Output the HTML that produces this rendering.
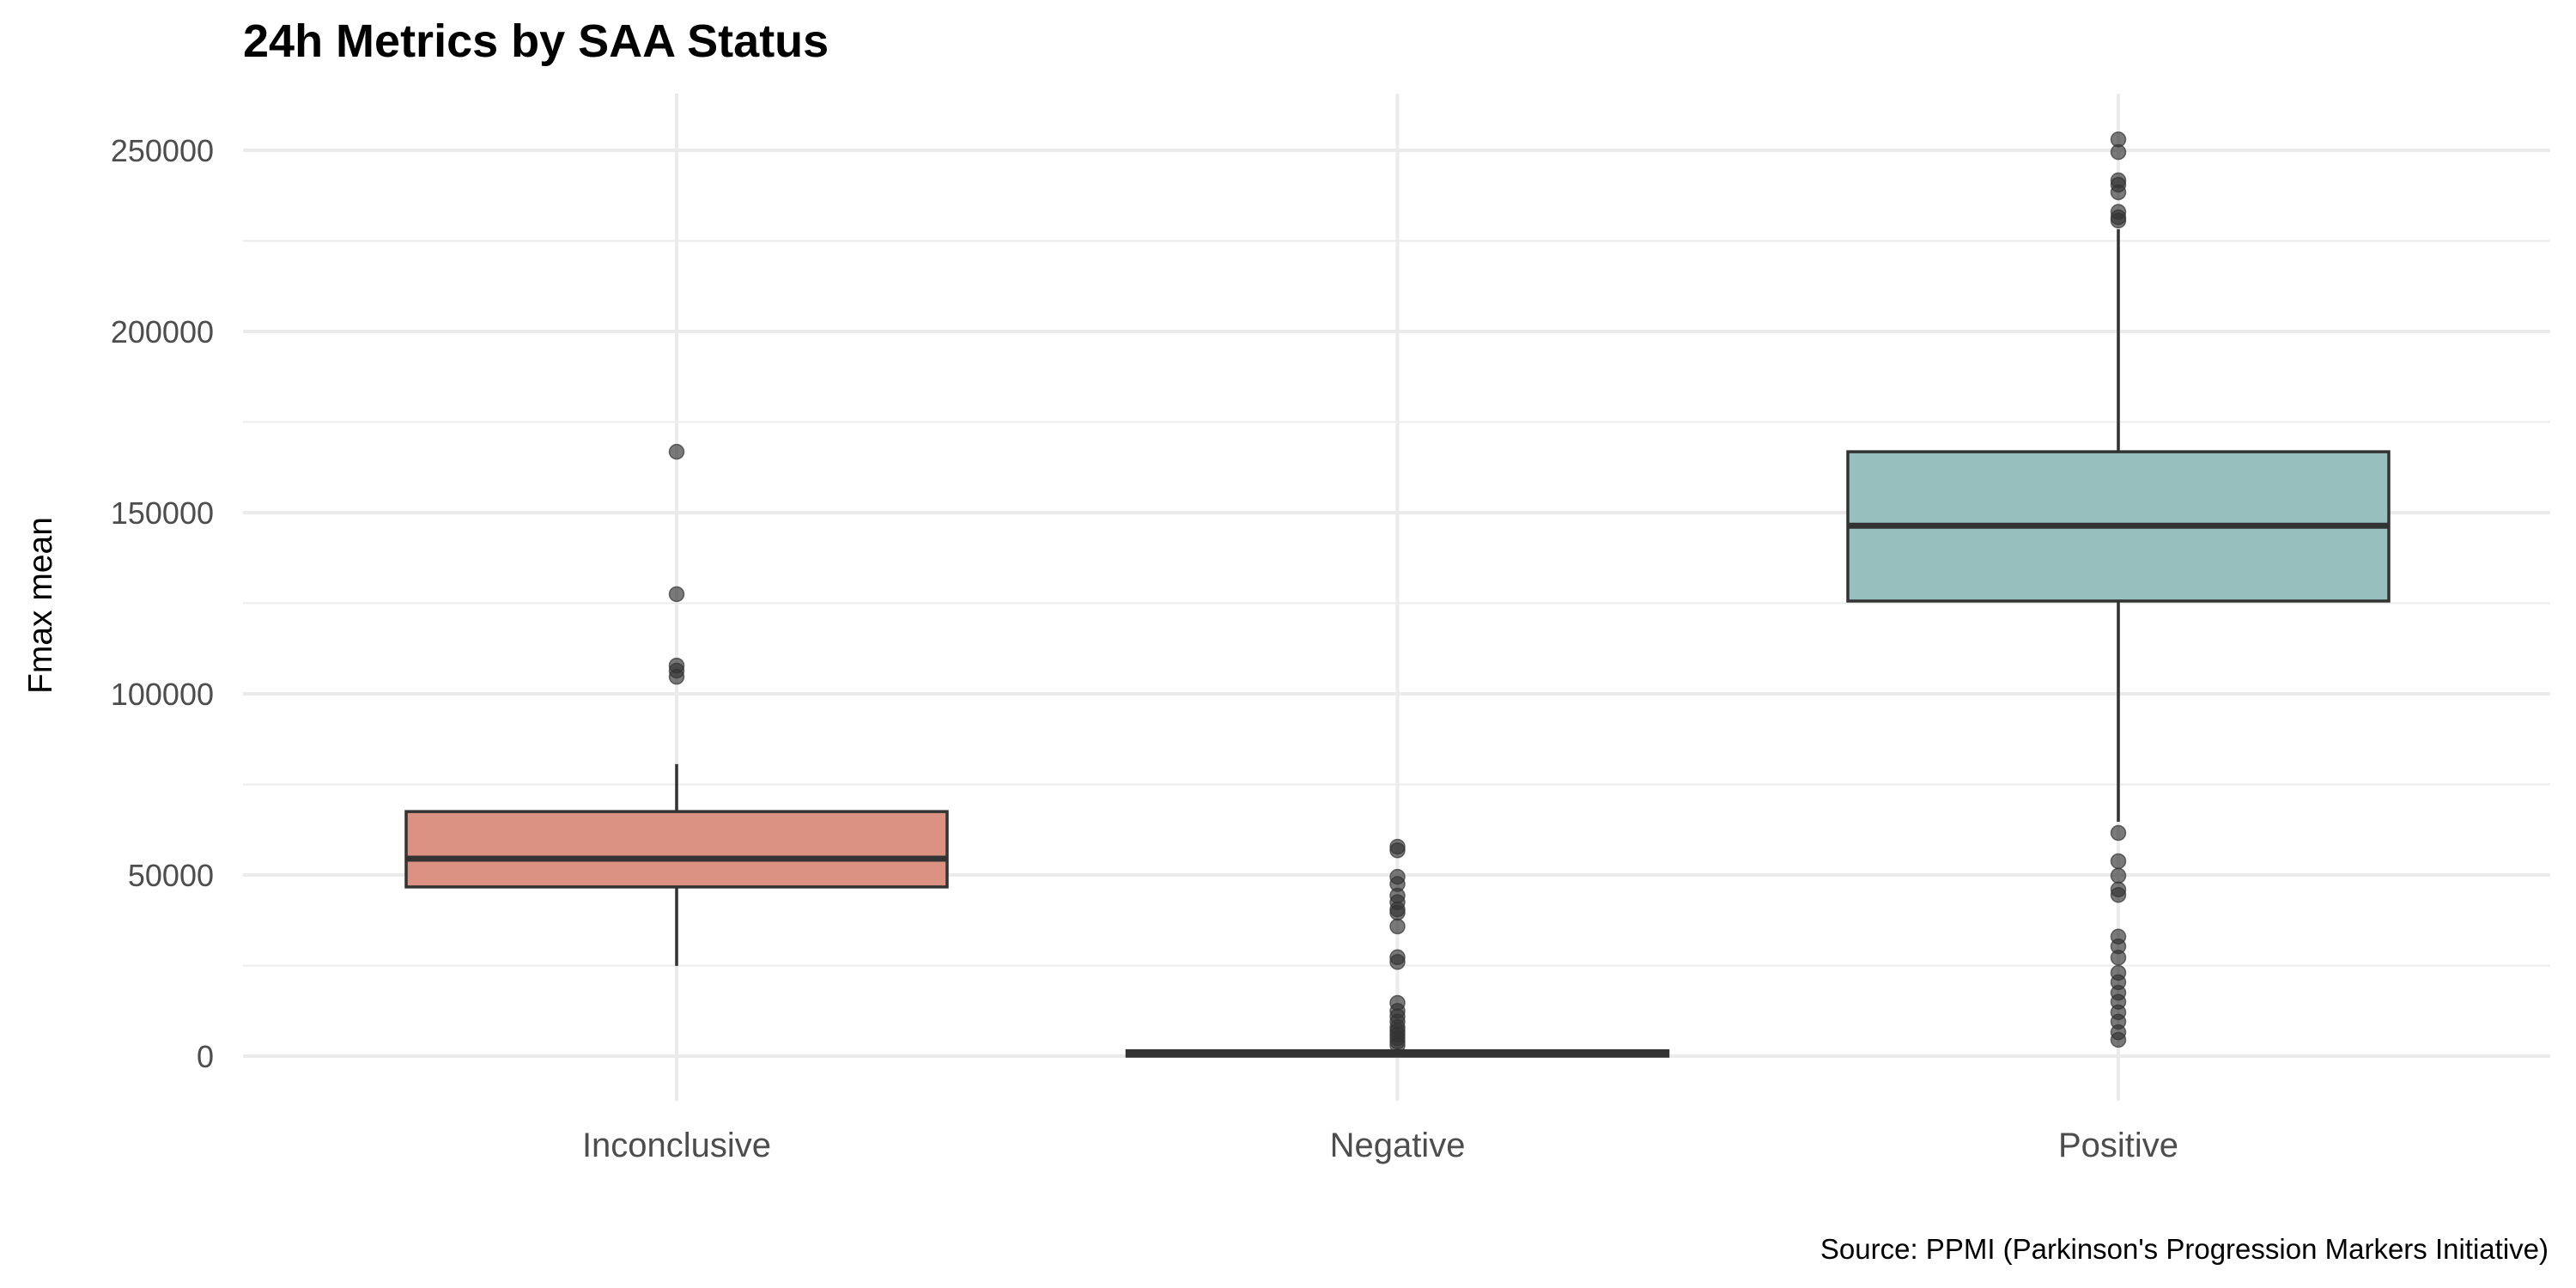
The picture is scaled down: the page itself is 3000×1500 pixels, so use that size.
<!DOCTYPE html>
<html><head><meta charset="utf-8"><style>
html,body{margin:0;padding:0;background:#fff;}
svg{display:block;font-family:"Liberation Sans",sans-serif;}
</style></head><body>
<svg id="chart" width="3000" height="1500" viewBox="0 0 3000 1500">
<g id="grid"></g>
<g id="boxes"></g>
<g id="axes"></g>
<text x="283" y="66" font-size="54" font-weight="bold" fill="#000">24h Metrics by SAA Status</text>
<text transform="translate(60,705) rotate(-90)" text-anchor="middle" font-size="39" fill="#000">Fmax mean</text>
<text x="2968" y="1466" text-anchor="end" font-size="33" fill="#000">Source: PPMI (Parkinson's Progression Markers Initiative)</text>
</svg>
<script>
const categories = ["Inconclusive","Negative","Positive"];
const q1 = [46700, 0, 125600];
const medians = [54500, 500, 146400];
const q3 = [67500, 1500, 166800];
const whiskLow = [24900, 0, 64700];
const whiskHigh = [80600, 2000, 228200];
const fills = ["#DC9282","#E6A090","#96BFBE"];
const outInconclusive = [166800, 127500, 107800, 106400, 104700];
const outNegative = [57800, 56800, 49500, 47500, 44300, 42500, 40500, 39600, 35800, 27300, 26000, 14700, 12500, 11000, 9500, 8000, 7000, 6000, 5000, 4000, 3000];
const outPositive = [253000, 249500, 241700, 240500, 238400, 233000, 231500, 230600, 61600, 53800, 49800, 46000, 44500, 33000, 30300, 27200, 23000, 20400, 17500, 15000, 12100, 9500, 6600, 4500];
const outliers = [outInconclusive, outNegative, outPositive];
const yTicks = [0, 50000, 100000, 150000, 200000, 250000];
const yMinor = [25000, 75000, 125000, 175000, 225000];

const NS = "http://www.w3.org/2000/svg";
const px0 = 283, px1 = 2970, py0 = 109, py1 = 1282;
function y(v){ return 1230 - v * 211 / 50000; }
function x(i){ return 788 + i * 839.5; }
const half = 315;
function mk(tag, attrs, parent){
  const e = document.createElementNS(NS, tag);
  for (const k in attrs) e.setAttribute(k, attrs[k]);
  parent.appendChild(e);
  return e;
}
const grid = document.getElementById('grid');
const boxes = document.getElementById('boxes');
const axes = document.getElementById('axes');
yMinor.forEach(v => {
  const l = mk('line', {x1:px0, x2:px1, y1:y(v), y2:y(v), stroke:'#EBEBEB', 'stroke-width':2}, grid);
  
  
});
yTicks.forEach(v => {
  const l = mk('line', {x1:px0, x2:px1, y1:y(v), y2:y(v), stroke:'#EBEBEB', 'stroke-width':4}, grid);
  
  
  const t = mk('text', {x:249, y:y(v)+13, 'text-anchor':'end', 'font-size':36, fill:'#4D4D4D'}, axes);
  t.textContent = String(v);
  
  
});
categories.forEach((c, i) => {
  const l = mk('line', {x1:x(i), x2:x(i), y1:py0, y2:py1, stroke:'#EBEBEB', 'stroke-width':4}, grid);
  
  
  const t = mk('text', {x:x(i), y:1347, 'text-anchor':'middle', 'font-size':40, fill:'#4D4D4D'}, axes);
  t.textContent = c;
  
  
});
categories.forEach((c, i) => {
  const g = mk('g', {}, boxes);
  
  
  const cx = x(i);
  const w1 = mk('line', {x1:cx, x2:cx, y1:y(q3[i]), y2:y(whiskHigh[i]), stroke:'#333', 'stroke-width':3.5}, g);
  
  
  const w2 = mk('line', {x1:cx, x2:cx, y1:y(q1[i]), y2:y(whiskLow[i]), stroke:'#333', 'stroke-width':3.5}, g);
  
  
  const h = Math.max(y(q1[i]) - y(q3[i]), 2);
  const r = mk('rect', {x:cx-half, y:y(q3[i]), width:half*2, height:h, fill:fills[i], stroke:'#333', 'stroke-width':3.5}, g);
  
  
  const m = mk('line', {x1:cx-half, x2:cx+half, y1:y(medians[i]), y2:y(medians[i]), stroke:'#333', 'stroke-width':7}, g);
  
  
  outliers[i].forEach(v => {
    const p = mk('circle', {cx:cx, cy:y(v), r:8.5, fill:'#333', 'fill-opacity':0.65, stroke:'#333', 'stroke-opacity':0.7, 'stroke-width':1.5}, g);
    
    
  });
});
</script>
</body></html>
